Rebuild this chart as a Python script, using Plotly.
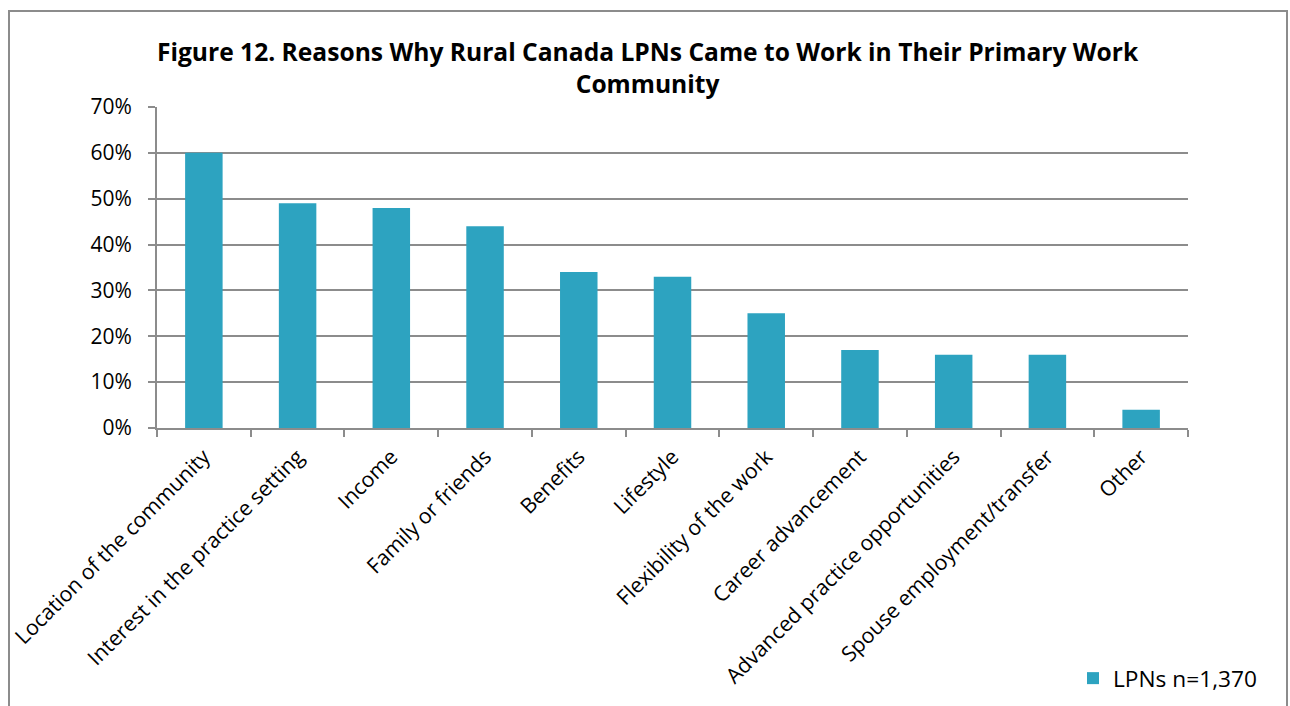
import plotly.graph_objects as go

# Survey results: share of rural LPNs citing each reason
reasons = [
    "Location of the community",
    "Interest in the practice setting",
    "Income",
    "Family or friends",
    "Benefits",
    "Lifestyle",
    "Flexibility of the work",
    "Career advancement",
    "Advanced practice opportunities",
    "Spouse employment/transfer",
    "Other",
]
shares = [0.60, 0.49, 0.48, 0.44, 0.34, 0.33, 0.25, 0.17, 0.16, 0.16, 0.04]
series_name = "LPNs n=1,370"
y_ticks = [0, 0.1, 0.2, 0.3, 0.4, 0.5, 0.6, 0.7]

BAR = "#2DA3C0"
GRID = "#8C8C8C"
FONT = "'Open Sans', Lato, sans-serif"

fig = go.Figure(
    go.Bar(
        x=reasons,
        y=shares,
        name=series_name,
        marker=dict(color=BAR, line=dict(width=0)),
        width=0.4,
        showlegend=True,
    )
)

fig.update_layout(
    width=1290,
    height=706,
    margin=dict(l=157, r=102, t=107, b=278, autoexpand=False),
    paper_bgcolor="white",
    plot_bgcolor="white",
    font=dict(family=FONT, color="black", size=20),
    title=dict(
        text="<b>Figure 12. Reasons Why Rural Canada LPNs Came to Work in Their Primary Work<br>Community</b>",
        x=0.502,
        xanchor="center",
        y=0.913,
        yanchor="middle",
        font=dict(family=FONT, size=24.6, color="black"),
    ),
    showlegend=True,
    legend=dict(
        x=(1073 - 157) / 1031,
        y=-0.78,
        xanchor="left",
        yanchor="middle",
        bgcolor="rgba(0,0,0,0)",
        font=dict(family=FONT, size=22.7, color="black"),
    ),
    bargap=0.6,
)

fig.update_xaxes(
    type="category",
    automargin=False,
    tickangle=-45,
    tickfont=dict(family=FONT, size=21.2, color="black"),
    showline=True,
    linecolor=GRID,
    linewidth=2,
    ticks="outside",
    tickson="boundaries",
    ticklen=7,
    tickcolor=GRID,
    tickwidth=2,
    showgrid=False,
    mirror=False,
    ticklabelstandoff=6,
)

fig.update_yaxes(
    range=[0, 0.7],
    automargin=False,
    tickvals=y_ticks,
    tickformat=".0%",
    tickfont=dict(family=FONT, size=21, color="black"),
    showgrid=True,
    gridcolor=GRID,
    gridwidth=1.5,
    showline=True,
    linecolor=GRID,
    linewidth=2,
    ticks="outside",
    ticklen=7,
    tickcolor=GRID,
    tickwidth=2,
    zeroline=False,
    ticklabelstandoff=12,
)

# Outer chart frame
fig.add_shape(
    type="rect",
    xref="paper",
    yref="paper",
    x0=(9 - 157) / 1031,
    x1=(1287 - 157) / 1031,
    y0=(428 - 720) / 321,
    y1=(428 - 11) / 321,
    line=dict(color=GRID, width=2),
    fillcolor="rgba(0,0,0,0)",
    layer="below",
)

fig.write_html("out.html")
